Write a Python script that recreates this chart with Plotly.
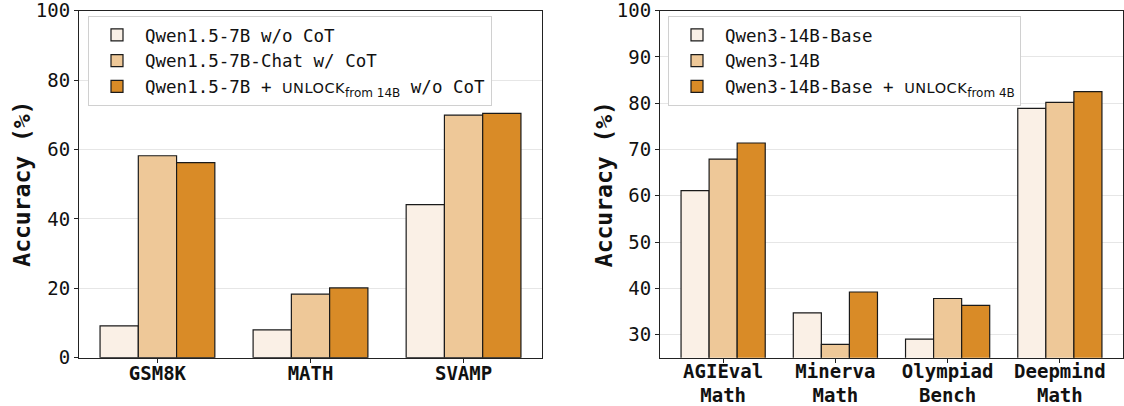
import plotly.graph_objects as go

# ---- data ----
left_categories = ["GSM8K", "MATH", "SVAMP"]
left_base = [9.2, 8.0, 44.1]
left_chat = [58.2, 18.3, 69.9]
left_unlock = [56.2, 20.1, 70.4]

right_categories = ["AGIEval<br>Math", "Minerva<br>Math", "Olympiad<br>Bench", "Deepmind<br>Math"]
right_base = [61.1, 34.7, 29.0, 78.9]
right_chat = [67.9, 27.9, 37.8, 80.2]
right_unlock = [71.4, 39.2, 36.3, 82.5]

y_title = "Accuracy (%)"

SC = "<span style='font-family:DejaVu Sans;font-size:14.5px;letter-spacing:0.5px'>UNLOCK</span>"
left_names = [
    "Qwen1.5-7B w/o CoT",
    "Qwen1.5-7B-Chat w/ CoT",
    "Qwen1.5-7B + " + SC + "<sub><span style='font-family:DejaVu Sans;font-size:12px'>from 14B</span></sub> w/o CoT",
]
right_names = [
    "Qwen3-14B-Base",
    "Qwen3-14B",
    "Qwen3-14B-Base + " + SC + "<sub><span style='font-family:DejaVu Sans;font-size:12px'>from 4B</span></sub>",
]

colors = ["#FAF0E6", "#EEC898", "#D98B27"]
MONO = "DejaVu Sans Mono"

fig = go.Figure()

def bold(labels):
    return ["<b>" + l.replace("<br>", "</b><br><b>") + "</b>" for l in labels]

for vals, name, col in zip([left_base, left_chat, left_unlock], left_names, colors):
    fig.add_trace(go.Bar(x=list(range(len(left_categories))), y=vals, name=name,
                         marker=dict(color=col, line=dict(color="#1a1a1a", width=1.2)),
                         xaxis="x", yaxis="y", legend="legend"))

for vals, name, col in zip([right_base, right_chat, right_unlock], right_names, colors):
    fig.add_trace(go.Bar(x=list(range(len(right_categories))), y=vals, name=name,
                         marker=dict(color=col, line=dict(color="#1a1a1a", width=1.2)),
                         xaxis="x2", yaxis="y2", legend="legend2"))

W, H = 1124, 406
ytop, ybot = 10.7, 357.7
ydom = [(H - ybot) / H, (H - ytop) / H]

axis_common = dict(
    showline=True, linecolor="#222", linewidth=1.2, mirror=True,
    ticks="outside", ticklen=4, tickcolor="#222",
    tickfont=dict(family=MONO, size=19, color="#111"),
    ticklabeloverflow="allow", automargin=False,
)

legend_common = dict(
    xanchor="left", yanchor="top", xref="paper", yref="paper",
    bgcolor="white", bordercolor="#d0d0d0", borderwidth=1,
    font=dict(family=MONO, size=17.5, color="#111"), tracegroupgap=2,
    itemwidth=46,
)

fig.update_layout(
    width=W, height=H,
    margin=dict(l=0, r=0, t=0, b=0),
    paper_bgcolor="white", plot_bgcolor="white",
    barmode="group", bargap=0.25, bargroupgap=0,
    font=dict(family=MONO, color="#111"),
    xaxis=dict(domain=[79 / W, 542 / W], anchor="y",
               tickmode="array", tickvals=list(range(len(left_categories))),
               ticktext=bold(left_categories), range=[-0.5125, 2.5125],
               showgrid=False, ticklabelstandoff=-6, **axis_common),
    yaxis=dict(domain=ydom, anchor="x", range=[0, 100], tickmode="array",
               tickvals=[0, 20, 40, 60, 80, 100],
               showgrid=True, gridcolor="#e6e6e6", gridwidth=1,
               **axis_common),
    xaxis2=dict(domain=[660 / W, 1123 / W], anchor="y2",
                tickmode="array", tickvals=list(range(len(right_categories))),
                ticktext=bold(right_categories), range=[-0.5625, 3.5625],
                showgrid=False, ticklabelstandoff=-8, **axis_common),
    yaxis2=dict(domain=ydom, anchor="x2", range=[25, 100], tickmode="array",
                tickvals=[30, 40, 50, 60, 70, 80, 90, 100],
                showgrid=True, gridcolor="#e6e6e6", gridwidth=1,
                **axis_common),
    legend=dict(x=88 / W, y=1 - 16 / H, **legend_common),
    legend2=dict(x=668 / W, y=1 - 16 / H, **legend_common),
)

ymid = (ydom[0] + ydom[1]) / 2
for xc in (22.5 / W, 604 / W):
    fig.add_annotation(x=xc, y=ymid, xref="paper", yref="paper",
                       text="<b>" + y_title + "</b>", textangle=-90, showarrow=False,
                       font=dict(family=MONO, size=23, color="#111"),
                       xanchor="center", yanchor="middle")

fig.write_html("out.html")
